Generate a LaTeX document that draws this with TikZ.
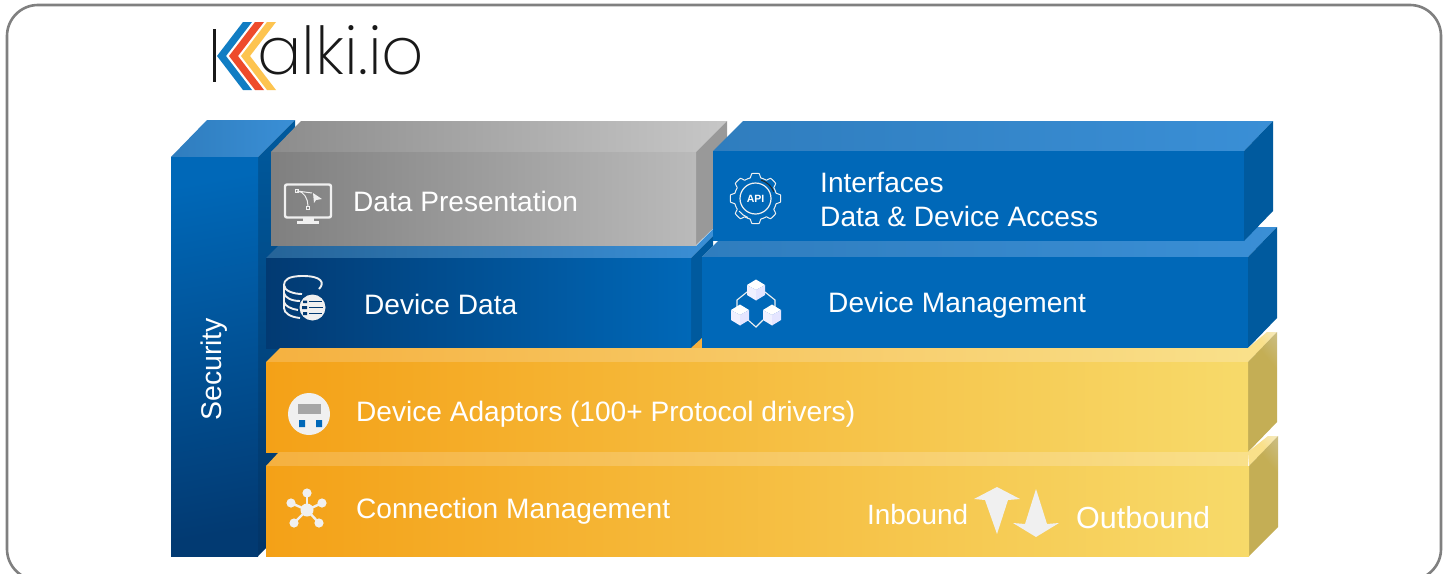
\documentclass[tikz,border=0pt]{standalone}
\usepackage{fontspec}
\setmainfont{Liberation Sans}
\newfontfamily\logofont{Poppins ExtraLight}
\definecolor{oliv}{HTML}{C4AE55}
\definecolor{olivl}{HTML}{D2CDB0}
\definecolor{ytop}{HTML}{F9E08A}
\definecolor{glowc}{HTML}{F4F0DC}
\definecolor{bfront}{HTML}{0068B8}
\definecolor{bside}{HTML}{005A9E}
\definecolor{btopa}{HTML}{2F7DBE}
\definecolor{btopb}{HTML}{3A8FD6}
\definecolor{navy}{HTML}{023A72}
\definecolor{ofront}{HTML}{F4A117}
\definecolor{yfront}{HTML}{F7DA6A}
\definecolor{otop}{HTML}{F5B140}
\definecolor{icon}{HTML}{F0F0F0}
\pgfdeclarehorizontalshading{oliveshade}{100bp}{color(0bp)=(oliv);color(68bp)=(oliv);color(100bp)=(olivl)}
\pgfdeclarehorizontalshading{glowshade}{100bp}{color(0bp)=(ytop);color(55bp)=(ytop);color(100bp)=(glowc)}
\tikzset{
  lbl/.style={inner sep=0pt,anchor=base west,text=white,font=\fontsize{28.1}{32}\selectfont},
  lblin/.style={lbl,font=\fontsize{27.9}{32}\selectfont},
  lblout/.style={lbl,font=\fontsize{30.5}{34}\selectfont},
  iconline/.style={draw=icon,line width=1.6pt,fill=none},
  iconfill/.style={fill=icon,draw=none},
  orangefront/.style={left color=ofront,right color=yfront},
  orangetop/.style={left color=otop,right color=ytop},
  bluetop/.style={left color=btopa,right color=btopb},
  sidepanel/.style={fill=bside},
  oliveside/.style={shading=oliveshade,shading angle=40},
  glowtop/.style={shading=glowshade,shading angle=40}
}
\begin{document}
\begin{tikzpicture}[x=1pt,y=-1pt]
\useasboundingbox (0,0) rectangle (1450,573);
\fill[white] (0,0) rectangle (1450,573);
\draw[draw=black!50,line width=2.6pt,rounded corners=31pt] (7,5) rectangle (1441,580);
% logo
\draw[draw=black!90,line width=2.8pt] (214.5,29) -- (214.5,82);
\fill[fill={rgb,255:red,17;green,125;blue,195}] (243,22) -- (252,22) -- (226,56) -- (252,90) -- (243,90) -- (217,56) -- cycle;
\fill[fill={rgb,255:red,238;green,75;blue,43}] (255,22) -- (264,22) -- (238,56) -- (264,90) -- (255,90) -- (229,56) -- cycle;
\fill[fill={rgb,255:red,253;green,196;blue,80}] (267,22) -- (276,22) -- (250,56) -- (276,90) -- (267,90) -- (241,56) -- cycle;
\node[inner sep=0pt,anchor=base west,font=\logofont\fontsize{66}{67}\selectfont,text=black!90] (logo) at (257,74) {alki.io};
% security
\path[left color=btopa,right color=btopb] (171,157) -- (207,120) -- (295,120) -- (258,157) -- cycle;
\path[top color=bside,bottom color=navy!90!black] (258,157) -- (295,120) -- (295,548) -- (266,548) -- (258,556) -- cycle;
\path[top color=bfront,bottom color=navy,shading angle=10] (171,157) rectangle (258,556);
\node[lbl,font=\fontsize{28.5}{32}\selectfont,rotate=90] (security) at (221,421) {Security};
% data presentation
\path[left color=black!45,right color=black!22] (271,152) -- (301,121) -- (727,121) -- (696,152) -- cycle;
\path[fill=black!40] (696,152) -- (727,121) -- (727,215) -- (696,245) -- cycle;
\path[left color=black!50,right color=black!27] (271,152) rectangle (696,245);
% device data
\path[left color=btopa!80!black,right color=btopb] (266,258) -- (278,246) -- (696,246) -- (713,229) -- (713,236) -- (691,258) -- cycle;
\path[sidepanel] (691,258) -- (713,236) -- (713,246) -- (702,257) -- (702,348) -- (691,348) -- cycle;
\fill[fill=otop] (691,348) -- (702,338) -- (702,348) -- cycle;
\path[left color=navy,right color=bfront] (266,258) rectangle (691,348);
% device management
\path[bluetop] (702,257) -- (732,227) -- (1277,227) -- (1248,257) -- cycle;
\path[sidepanel] (1248,257) -- (1277,227) -- (1277,318) -- (1248,348) -- cycle;
\fill[fill=bfront] (702,257) rectangle (1248,348);
% interfaces
\path[bluetop] (713,151) -- (743,121) -- (1273,121) -- (1244,151) -- cycle;
\path[sidepanel] (1244,151) -- (1273,121) -- (1273,211) -- (1244,241) -- cycle;
\fill[fill=bfront] (713,151) rectangle (1244,241);
% device adaptors
\path[orangetop] (266,362) -- (280,348) -- (1248,348) -- (1248,362) -- cycle;
\path[glowtop] (1248,348) -- (1267,332) -- (1277,332) -- (1248,362) -- cycle;
\path[oliveside] (1248,362) -- (1277,332) -- (1277,422) -- (1248,452) -- cycle;
\path[orangefront] (266,362) rectangle (1248,452);
% connection management
\path[orangetop] (266,466) -- (279,452) -- (1248,452) -- (1248,466) -- cycle;
\path[glowtop] (1248,452) -- (1268,436) -- (1278,436) -- (1249,466) -- cycle;
\path[oliveside] (1249,466) -- (1278,436) -- (1278,527) -- (1249,556) -- cycle;
\path[orangefront] (266,466) rectangle (1249,556);
% labels
\node[lbl] (datapres) at (353,211) {Data Presentation};
\node[lbl] (ifa) at (820,192) {Interfaces};
\node[lbl] (ifb) at (820,226) {Data \& Device Access};
\node[lbl] (devdata) at (364,314) {Device Data};
\node[lbl] (devmgmt) at (828,312) {Device Management};
\node[lbl] (adaptors) at (356,421) {Device Adaptors (100+ Protocol drivers)};
\node[lbl] (conn) at (356,518) {Connection Management};
\node[lblin] (inb) at (867,524) {Inbound};
\node[lblout] (outb) at (1076,528) {Outbound};
% in/out arrows
\fill[iconfill] (997,487) -- (1020,499) -- (1008,500) -- (997,534) -- (985,500) -- (974,499) -- cycle;
\fill[iconfill] (1036,489) -- (1047,524) -- (1059,523) -- (1036,537) -- (1013,523) -- (1025,524) -- cycle;
% monitor icon
\draw[iconline,line width=2.4pt,rounded corners=2pt] (285,184.5) rectangle (331,217.5);
\fill[iconfill] (303,218) rectangle (314,221);
\fill[iconfill] (297,221) rectangle (318.5,224);
\draw[iconline,line width=1pt] (297,191) .. controls (304,191) and (308,199) .. (308,206);
\draw[iconline,line width=1pt] (297,191) -- (312,193);
\draw[iconline,line width=.9pt] (295.5,189.5) rectangle (298.5,192.5);
\draw[iconline,line width=.9pt] (306.5,206) rectangle (309.5,209);
\fill[iconfill] (313,193) -- (322,199) -- (316,200) -- (314,203) -- cycle;
% api gear icon
\draw[iconline,line width=1pt,line join=round] plot[domain=0:360,samples=289] ({755.5+(23.2+min(2,max(-2,5*cos(8*\x))))*cos(\x)},{198.5+(23.2+min(2,max(-2,5*cos(8*\x))))*sin(\x)}) -- cycle;
\draw[iconline,line width=1.2pt] (755.5,198.5) circle[radius=15.5];
\node[inner sep=0pt,text=white,font=\bfseries\fontsize{10.5}{12}\selectfont] (api) at (755.5,199) {API};
\draw[draw=black!85,line width=1pt] (761,180) arc[start angle=-73,end angle=-22,radius=20];
\draw[iconline,line width=1pt] (739,211) arc[start angle=142,end angle=110,radius=20];
% cube icon
\draw[iconline,line width=1.1pt] (747,292) -- (737,300) -- (737,307);
\draw[iconline,line width=1.1pt] (765,292) -- (775,300) -- (775,307);
\draw[iconline,line width=1.1pt] (748,320) -- (756,327) -- (763,320);
\foreach \cx/\cy/\nm in {756/290/a,740/315/b,772/315/c}{
  \fill[fill=white] (\cx,\cy-10.5) -- (\cx+9,\cy-5) -- (\cx,\cy) -- (\cx-9,\cy-5) -- cycle;
  \fill[fill=blue!6!white] (\cx-9,\cy-5) -- (\cx,\cy) -- (\cx,\cy+10.5) -- (\cx-9,\cy+5) -- cycle;
  \fill[fill=blue!10!white] (\cx+9,\cy-5) -- (\cx,\cy) -- (\cx,\cy+10.5) -- (\cx+9,\cy+5) -- cycle;
}
% database icon
\draw[iconline,line width=1.9pt] (319,289) .. controls (325,283) and (322,276) .. (303,276) .. controls (288,276) and (284,280) .. (284,285) .. controls (284,291) and (294,294) .. (302,294);
\draw[iconline,line width=1.9pt] (284,285) -- (284,308) .. controls (284,313) and (290,317) .. (300,318);
\draw[iconline,line width=1.9pt] (284,293) .. controls (285,298) and (292,301) .. (300,301);
\draw[iconline,line width=1.9pt] (284,302) .. controls (285,306) and (291,309) .. (298,310);
\fill[iconfill] (312.5,307.5) circle[radius=13];
\draw[draw=navy,line width=1.4pt] (309,301.5) -- (322,301.5) (309,307.5) -- (323,307.5) (309,313.5) -- (322,313.5);
\fill[fill=navy] (303,300.5) rectangle (307,303) (302,306) rectangle (307,309) (303,312) rectangle (307,315);
% adaptor icon
\fill[iconfill] (309,414) circle[radius=21];
\fill[fill=black!35] (298,404) rectangle (321,414);
\fill[fill=bfront] (299,420) rectangle (305,427) (316,420) rectangle (322,427);
% hub icon
\foreach \px/\py in {307/493,291/503,322/503,294/523,319/523}{
  \draw[draw=icon,line width=2.4pt] (307,510) -- (\px,\py);
  \fill[iconfill] (\px,\py) circle[radius=4.6];
}
\fill[iconfill] (307,510) circle[radius=6.5];
\end{tikzpicture}
\end{document}
